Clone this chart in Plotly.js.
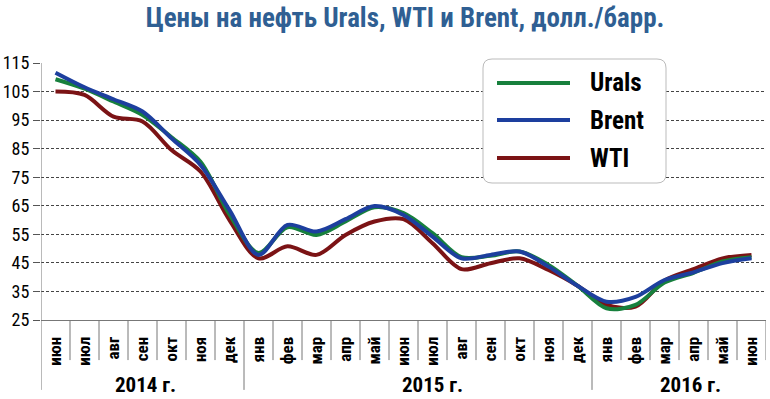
<!DOCTYPE html>
<html><head><meta charset="utf-8">
<script src="https://cdn.plot.ly/plotly-3.0.1.min.js"></script>
<style>html,body{margin:0;padding:0;background:#fff;}#chart{width:770px;height:399px;}</style>
</head><body><div id="chart"></div>
<script>
const months = ['июн','июл','авг','сен','окт','ноя','дек','янв','фев','мар','апр','май','июн','июл','авг','сен','окт','ноя','дек','янв','фев','мар','апр','май','июн'];
const years = ['2014 г.','2015 г.','2016 г.'];
const yearStart = [0, 7, 19];
const urals = [109.3,106.0,101.5,96.8,89.0,80.4,62.0,48.5,57.5,54.8,59.5,64.5,62.4,55.4,47.0,47.5,49.0,44.3,37.0,29.1,30.3,38.1,41.5,45.5,47.0];
const brent = [111.6,106.5,102.3,98.0,88.6,79.3,63.5,47.8,58.3,56.0,60.3,64.9,61.8,54.2,46.6,47.8,49.0,43.7,37.0,31.4,33.1,39.0,41.7,44.9,46.6];
const wti   = [105.0,103.8,96.2,94.5,84.5,77.0,60.0,46.6,50.8,47.8,54.8,59.5,60.3,51.9,42.8,44.9,46.6,42.5,37.0,30.3,29.7,38.8,42.8,46.6,47.8];
const seriesNames = ['Urals','Brent','WTI'];
const yTicks = [25,35,45,55,65,75,85,95,105,115];

const xs = months.map((m,i)=>i);
const colors = {Urals:'#17803d', Brent:'#1d3f9e', WTI:'#7b1315'};
const FONT = '"Liberation Sans Narrow","Roboto Condensed","DejaVu Sans Condensed",sans-serif';

function tr(name, ys){
  return {x: xs, y: ys, type:'scatter', mode:'lines', name: name,
    line:{color: colors[name], width:4, shape:'spline', smoothing:0.9}, showlegend:false, hoverinfo:'skip'};
}
const data = [tr('WTI', wti), tr('Urals', urals), tr('Brent', brent)];

const shapes = [];
const annotations = [];
// category dividers
const longDiv = yearStart.map(s=>s-0.5);
for(let i=0;i<=months.length;i++){
  const xv = i-0.5;
  const isLong = longDiv.includes(xv);
  shapes.push({type:'line', xref:'x', yref:'paper', x0:xv, x1:xv, y0: xv===-0.5?1:0, y1: isLong?-0.272:-0.156,
    line:{color:'#777', width:1}});
}
years.forEach((y,k)=>{
  const pos = [3.1, 13.0, 21.9][k];
  annotations.push({xref:'x', yref:'paper', x: pos, y: -0.253, text: y, showarrow:false,
    font:{family:FONT, size:21, color:'#000', weight:'bold'}, xanchor:'center', yanchor:'middle'});
});
// legend box (manual)
const lx0 = 483, lx1 = 666, ly0 = 59, ly1 = 183, r = 9;
const W = 770, H = 399, ml = 41, mr = 4, mt = 63, mb = 79;
const pw = W-ml-mr, ph = H-mt-mb;
const px = x => (x-ml)/pw, py = y => (H-mb-y)/ph;
function rr(){
  const X0=px(lx0), X1=px(lx1), Y0=py(ly1), Y1=py(ly0), rx=r/pw, ry=r/ph;
  return `M ${X0+rx} ${Y1} L ${X1-rx} ${Y1} Q ${X1} ${Y1} ${X1} ${Y1-ry} L ${X1} ${Y0+ry} Q ${X1} ${Y0} ${X1-rx} ${Y0} L ${X0+rx} ${Y0} Q ${X0} ${Y0} ${X0} ${Y0+ry} L ${X0} ${Y1-ry} Q ${X0} ${Y1} ${X0+rx} ${Y1} Z`;
}
shapes.push({type:'path', xref:'paper', yref:'paper', path: rr(), fillcolor:'#fff', line:{color:'#bbb', width:1}, layer:'above'});
const legY = [83, 120, 158];
seriesNames.forEach((n,k)=>{
  shapes.push({type:'line', xref:'paper', yref:'paper', x0:px(497), x1:px(570), y0:py(legY[k]), y1:py(legY[k]),
    line:{color:colors[n], width:4}, layer:'above'});
  annotations.push({xref:'paper', yref:'paper', x:px(588), y:py(legY[k]), text:n, showarrow:false,
    xanchor:'left', yanchor:'middle', font:{family:FONT, size:25, color:'#000', weight:'bold'}});
});

const layout = {
  width: W, height: H,
  margin:{l:ml, r:mr, t:mt, b:mb, pad:0},
  paper_bgcolor:'#fff', plot_bgcolor:'#fff',
  title:{text:'Цены на нефть Urals, WTI и Brent, долл./барр.', x:405/770, xanchor:'center', y:1-18/399, yanchor:'middle',
    font:{family:FONT, size:27, color:'#2f5f93', weight:'bold'}},
  xaxis:{range:[-0.5, 24.5], tickvals: xs, ticktext: months, tickangle:-90, ticks:'', showgrid:false, zeroline:false,
    showline:true, linecolor:'#777', linewidth:1, fixedrange:true, ticklabelstandoff:9,
    tickfont:{family:FONT, size:17, color:'#000', weight:'bold'}},
  yaxis:{range:[25,115], tickvals: yTicks, ticks:'outside', ticklen:7, tickcolor:'#555', showgrid:true,
    gridcolor:'#444', griddash:'3px,2px', gridwidth:1, zeroline:false, showline:false, fixedrange:true,
    tickfont:{family:FONT, size:18, color:'#000'}},
  shapes: shapes, annotations: annotations, showlegend:false
};
Plotly.newPlot('chart', data, layout, {displayModeBar:false, staticPlot:true});
</script></body></html>
